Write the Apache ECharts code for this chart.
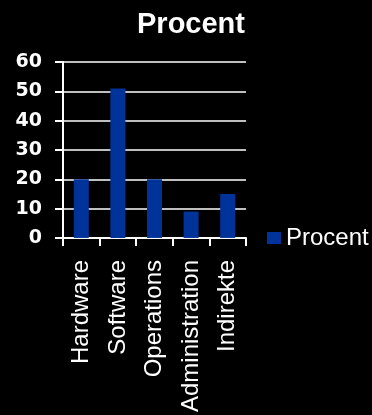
<!DOCTYPE html>
<html>
<head>
<meta charset="utf-8">
<script src="https://cdn.jsdelivr.net/npm/echarts@6/dist/echarts.min.js"></script>
<style>
html,body{margin:0;padding:0;background:#000;}
#chart{width:372px;height:415px;}
</style>
</head>
<body>
<div id="chart"></div>
<script>
const categories = ['Hardware', 'Software', 'Operations', 'Administration', 'Indirekte'];
const seriesName = 'Procent';
const values = [20, 51, 20, 9, 15];
const yTicks = [0, 10, 20, 30, 40, 50, 60];

const chart = echarts.init(document.getElementById('chart'), null, {renderer: 'canvas'});
const font = '"Liberation Sans", Arial, sans-serif';
chart.setOption({
  backgroundColor: '#000000',
  animation: false,
  title: {
    text: seriesName,
    left: 132,
    top: 5,
    textStyle: {color: '#ffffff', fontSize: 29, fontWeight: 'bold', fontFamily: font}
  },
  legend: {
    data: [seriesName],
    left: 262,
    top: 221,
    itemWidth: 14,
    itemHeight: 12,
    icon: 'rect',
    textStyle: {color: '#ffffff', fontSize: 24, fontFamily: font}
  },
  grid: {left: 63, right: 126, top: 62, bottom: 175, containLabel: false},
  xAxis: {
    type: 'category',
    data: categories,
    boundaryGap: true,
    axisLine: {lineStyle: {color: '#ffffff', width: 2}},
    axisTick: {show: true, length: 8, lineStyle: {color: '#ffffff', width: 2}},
    axisLabel: {rotate: 90, margin: 22, color: '#ffffff', fontSize: 24, fontFamily: font, interval: 0}
  },
  yAxis: {
    type: 'value',
    min: yTicks[0],
    max: yTicks[yTicks.length - 1],
    interval: 10,
    axisLine: {show: true, lineStyle: {color: '#ffffff', width: 2}},
    axisTick: {show: true, length: 8, lineStyle: {color: '#ffffff', width: 2}},
    axisLabel: {margin: 21, color: '#ffffff', fontSize: 19, fontWeight: 'bold', fontFamily: '"DejaVu Sans", sans-serif'},
    splitLine: {show: true, lineStyle: {color: '#ffffff', width: 1.5}}
  },
  series: [{
    name: seriesName,
    type: 'bar',
    data: values,
    barWidth: 15,
    itemStyle: {color: '#00339a'}
  }]
});
</script>
</body>
</html>
